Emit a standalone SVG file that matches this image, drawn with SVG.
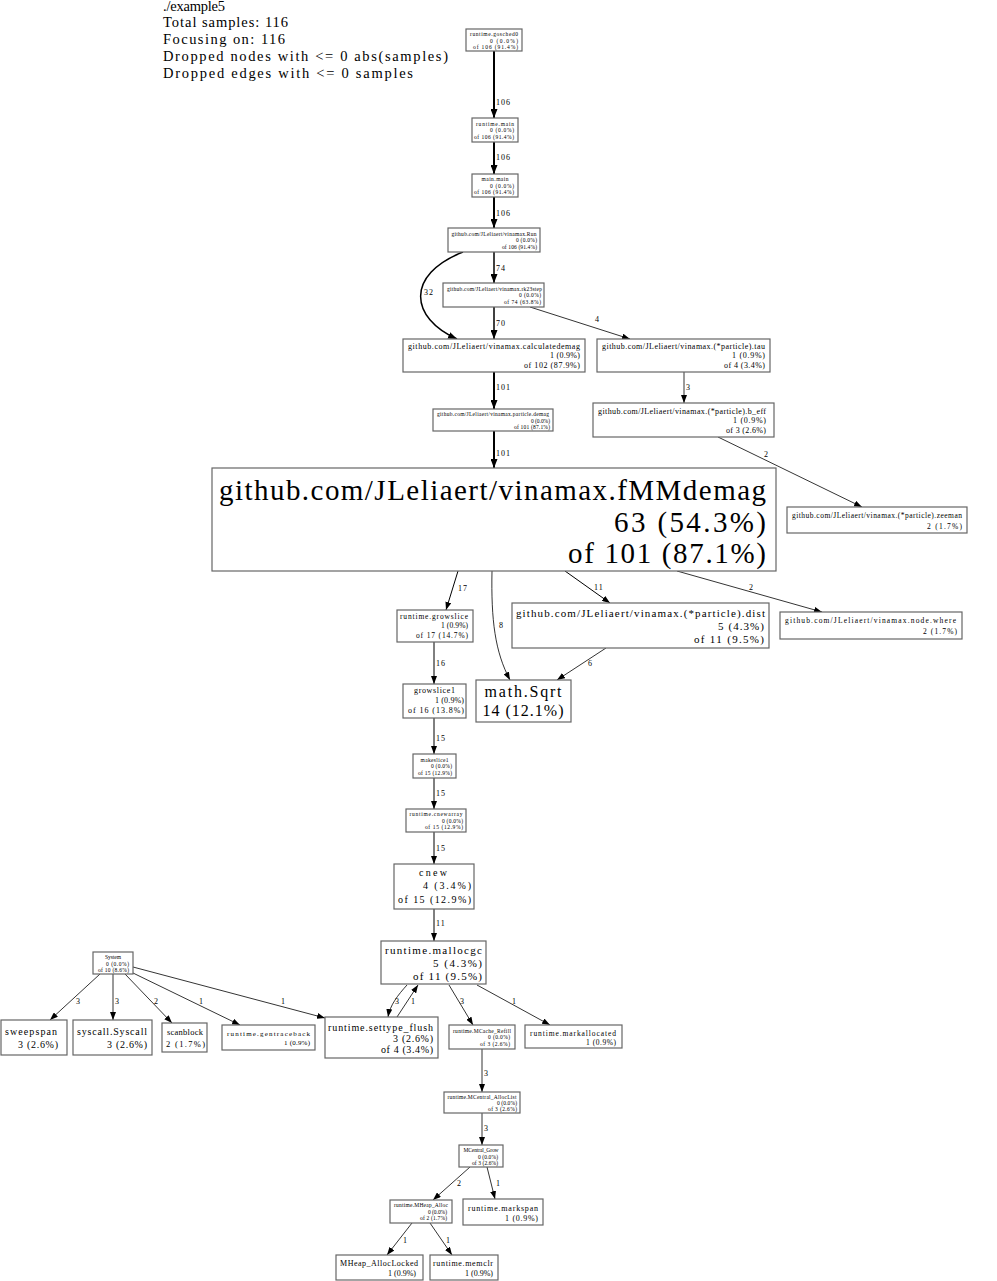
<svg xmlns="http://www.w3.org/2000/svg" width="997" height="1281" viewBox="0 0 997 1281">
<style>
text{font-family:"Liberation Serif","Times New Roman",serif;fill:#000}
.nd rect{fill:#fff;stroke:#666;stroke-width:1.2}
.t{font-size:5.5px}
.m{text-anchor:middle}
.r{text-anchor:end}
.lg{font-size:14.5px}
.e path{fill:none;stroke:#000}
.e text{font-size:8px;letter-spacing:1px}
.w1{stroke-width:0.8}
.w2{stroke-width:1}
.w3{stroke-width:1.5}
.w4{stroke-width:2}
</style>
<defs>
<marker id="a" markerUnits="userSpaceOnUse" markerWidth="8" markerHeight="6" refX="8" refY="3" orient="auto"><path d="M0,0 L8,3 L0,6 z" fill="#000"/></marker>
<marker id="b" markerUnits="userSpaceOnUse" markerWidth="9" markerHeight="7" refX="9" refY="3.5" orient="auto"><path d="M0,0 L9,3.5 L0,7 z" fill="#000"/></marker>
</defs>
<g id="legend" class="lg">
<text x="163" y="11" textLength="62">./example5</text>
<text x="163" y="27" textLength="125">Total samples: 116</text>
<text x="163" y="44" textLength="122">Focusing on: 116</text>
<text x="163" y="61" textLength="285">Dropped nodes with &lt;= 0 abs(samples)</text>
<text x="163" y="78" textLength="250">Dropped edges with &lt;= 0 samples</text>
</g>
<g class="e" id="edges">
<path class="w4" d="M494,51 L494,118" marker-end="url(#b)"/><text x="496" y="105">106</text>
<path class="w4" d="M494,142 L494,174" marker-end="url(#b)"/><text x="496" y="160">106</text>
<path class="w4" d="M494,197 L494,228" marker-end="url(#b)"/><text x="496" y="216">106</text>
<path class="w3" d="M494,252 L494,283" marker-end="url(#b)"/><text x="496" y="271">74</text>
<path class="w3" d="M463,252 C405,275 410,318 457,339" marker-end="url(#b)"/><text x="424" y="295">32</text>
<path class="w3" d="M494,307 L494,339" marker-end="url(#b)"/><text x="496" y="326">70</text>
<path class="w1" d="M530,307 L630,339" marker-end="url(#a)"/><text x="595" y="322">4</text>
<path class="w4" d="M494,372 L494,409" marker-end="url(#b)"/><text x="496" y="390">101</text>
<path class="w1" d="M684,372 L684,403" marker-end="url(#a)"/><text x="686" y="390">3</text>
<path class="w4" d="M494,431 L494,468" marker-end="url(#b)"/><text x="496" y="456">101</text>
<path class="w1" d="M718,437 L862,507" marker-end="url(#a)"/><text x="764" y="457">2</text>
<path class="w2" d="M458,571 L446,610" marker-end="url(#a)"/><text x="458" y="591">17</text>
<path class="w1" d="M492,571 C491,620 495,652 510,680" marker-end="url(#a)"/><text x="499" y="628">8</text>
<path class="w2" d="M565,571 L610,603" marker-end="url(#a)"/><text x="594" y="590">11</text>
<path class="w1" d="M677,571 L822,612" marker-end="url(#a)"/><text x="749" y="590">2</text>
<path class="w1" d="M606,648 L557,680" marker-end="url(#a)"/><text x="588" y="666">6</text>
<path class="w2" d="M434,642 L434,684" marker-end="url(#a)"/><text x="436" y="666">16</text>
<path class="w2" d="M434,718 L434,754" marker-end="url(#a)"/><text x="436" y="741">15</text>
<path class="w2" d="M434,778 L434,809" marker-end="url(#a)"/><text x="436" y="796">15</text>
<path class="w2" d="M434,832 L434,864" marker-end="url(#a)"/><text x="436" y="851">15</text>
<path class="w2" d="M434,909 L434,941" marker-end="url(#a)"/><text x="436" y="926">11</text>
<path class="w1" d="M407,985 C398,995 390,1005 388,1017" marker-end="url(#a)"/><text x="395" y="1004">3</text>
<path class="w1" d="M397,1017 L418,985" marker-end="url(#a)"/><text x="411" y="1004">1</text>
<path class="w1" d="M449,985 L473,1025" marker-end="url(#a)"/><text x="460" y="1004">3</text>
<path class="w1" d="M477,985 L550,1025" marker-end="url(#a)"/><text x="512" y="1004">1</text>
<path class="w1" d="M100,974 L50,1020" marker-end="url(#a)"/><text x="76" y="1004">3</text>
<path class="w1" d="M113,974 L113,1020" marker-end="url(#a)"/><text x="115" y="1004">3</text>
<path class="w1" d="M125,974 L172,1023" marker-end="url(#a)"/><text x="154" y="1004">2</text>
<path class="w1" d="M133,973 L240,1025" marker-end="url(#a)"/><text x="199" y="1004">1</text>
<path class="w1" d="M133,967 L325,1018" marker-end="url(#a)"/><text x="281" y="1004">1</text>
<path class="w1" d="M482,1049 L482,1092" marker-end="url(#a)"/><text x="484" y="1076">3</text>
<path class="w1" d="M482,1113 L482,1145" marker-end="url(#a)"/><text x="484" y="1131">3</text>
<path class="w1" d="M470,1167 L433,1200" marker-end="url(#a)"/><text x="457" y="1186">2</text>
<path class="w1" d="M487,1167 L495,1199" marker-end="url(#a)"/><text x="496" y="1186">1</text>
<path class="w1" d="M412,1223 L387,1255" marker-end="url(#a)"/><text x="403" y="1243">1</text>
<path class="w1" d="M430,1223 L452,1255" marker-end="url(#a)"/><text x="446" y="1243">1</text>
</g>
<g id="n_gosched0" class="nd"><rect x="466" y="29" width="56" height="22"/><text class="t m" x="494" y="36" textLength="48">runtime.gosched0</text><text class="t r" x="518" y="42.5" textLength="28">0 (0.0%)</text><text class="t r" x="518" y="49" textLength="45">of 106 (91.4%)</text></g>
<g id="n_rtmain" class="nd"><rect x="472" y="118" width="46" height="24"/><text class="t m" x="495" y="125.5" textLength="38">runtime.main</text><text class="t r" x="514" y="132" textLength="24">0 (0.0%)</text><text class="t r" x="514" y="138.5" textLength="40">of 106 (91.4%)</text></g>
<g id="n_mainmain" class="nd"><rect x="472" y="174" width="46" height="23"/><text class="t m" x="495" y="181" textLength="27">main.main</text><text class="t r" x="514" y="187.5" textLength="24">0 (0.0%)</text><text class="t r" x="514" y="194" textLength="40">of 106 (91.4%)</text></g>
<g id="n_run" class="nd"><rect x="448" y="228" width="92" height="24"/><text class="t m" x="494" y="235.5" textLength="85">github.com/JLeliaert/vinamax.Run</text><text class="t r" x="537" y="242" textLength="21">0 (0.0%)</text><text class="t r" x="537" y="248.5" textLength="35">of 106 (91.4%)</text></g>
<g id="n_rk23" class="nd"><rect x="443" y="283" width="101" height="24"/><text class="t m" x="494.5" y="290.5" textLength="95">github.com/JLeliaert/vinamax.rk23step</text><text class="t r" x="541" y="297" textLength="22">0 (0.0%)</text><text class="t r" x="541" y="303.5" textLength="37">of 74 (63.8%)</text></g>
<g id="n_calc" class="nd"><rect x="403" y="339" width="182" height="33"/><text class="m" style="font-size:8px" x="494" y="348.5" textLength="172">github.com/JLeliaert/vinamax.calculatedemag</text><text class="r" style="font-size:8px" x="580" y="358" textLength="30">1 (0.9%)</text><text class="r" style="font-size:8px" x="580" y="367.5" textLength="56">of 102 (87.9%)</text></g>
<g id="n_tau" class="nd"><rect x="597" y="339" width="173" height="33"/><text class="m" style="font-size:8px" x="683.5" y="348.5" textLength="163">github.com/JLeliaert/vinamax.(*particle).tau</text><text class="r" style="font-size:8px" x="765" y="358" textLength="33">1 (0.9%)</text><text class="r" style="font-size:8px" x="765" y="367.5" textLength="41">of 4 (3.4%)</text></g>
<g id="n_pdemag" class="nd"><rect x="433" y="409" width="120" height="22"/><text class="t m" x="493" y="416" textLength="112">github.com/JLeliaert/vinamax.particle.demag</text><text class="t r" x="550" y="422.5" textLength="19">0 (0.0%)</text><text class="t r" x="550" y="428.5" textLength="36">of 101 (87.1%)</text></g>
<g id="n_beff" class="nd"><rect x="593" y="403" width="181" height="34"/><text class="m" style="font-size:8px" x="682" y="413.5" textLength="168">github.com/JLeliaert/vinamax.(*particle).b_eff</text><text class="r" style="font-size:8px" x="766" y="423" textLength="33">1 (0.9%)</text><text class="r" style="font-size:8px" x="766" y="432.5" textLength="40">of 3 (2.6%)</text></g>
<g id="n_zeeman" class="nd"><rect x="787" y="507" width="180" height="26"/><text class="m" style="font-size:7.5px" x="877" y="518" textLength="170">github.com/JLeliaert/vinamax.(*particle).zeeman</text><text class="r" style="font-size:7.5px" x="962" y="528.5" textLength="35">2 (1.7%)</text></g>
<g id="n_fmm" class="nd"><rect x="212" y="468" width="564" height="103"/><text class="m" style="font-size:29px" x="492.5" y="500" textLength="547">github.com/JLeliaert/vinamax.fMMdemag</text><text class="r" style="font-size:29px" x="766" y="532" textLength="152">63 (54.3%)</text><text class="r" style="font-size:29px" x="766" y="563" textLength="198">of 101 (87.1%)</text></g>
<g id="n_growslice" class="nd"><rect x="397" y="610" width="76" height="32"/><text class="m" style="font-size:7.5px" x="434" y="618.5" textLength="68">runtime.growslice</text><text class="r" style="font-size:7.5px" x="468" y="628" textLength="27">1 (0.9%)</text><text class="r" style="font-size:7.5px" x="468" y="638" textLength="52">of 17 (14.7%)</text></g>
<g id="n_dist" class="nd"><rect x="512" y="603" width="257" height="45"/><text class="m" style="font-size:11px" x="640.5" y="617" textLength="249">github.com/JLeliaert/vinamax.(*particle).dist</text><text class="r" style="font-size:11px" x="764" y="630" textLength="46">5 (4.3%)</text><text class="r" style="font-size:11px" x="764" y="643" textLength="70">of 11 (9.5%)</text></g>
<g id="n_where" class="nd"><rect x="780" y="612" width="182" height="27"/><text class="m" style="font-size:7.5px" x="870.5" y="623" textLength="171">github.com/JLeliaert/vinamax.node.where</text><text class="r" style="font-size:7.5px" x="957" y="634" textLength="34">2 (1.7%)</text></g>
<g id="n_sqrt" class="nd"><rect x="476" y="680" width="95" height="42"/><text class="m" style="font-size:16px" x="523" y="697" textLength="77">math.Sqrt</text><text class="m" style="font-size:16px" x="523" y="716" textLength="81">14 (12.1%)</text></g>
<g id="n_growslice1" class="nd"><rect x="403" y="684" width="63" height="34"/><text class="m" style="font-size:8px" x="434.5" y="693" textLength="41">growslice1</text><text class="r" style="font-size:8px" x="464" y="703" textLength="29">1 (0.9%)</text><text class="r" style="font-size:8px" x="464" y="713" textLength="56">of 16 (13.8%)</text></g>
<g id="n_makeslice1" class="nd"><rect x="413" y="754" width="43" height="24"/><text class="t m" x="434.5" y="761.5" textLength="28">makeslice1</text><text class="t r" x="452" y="768" textLength="21">0 (0.0%)</text><text class="t r" x="452" y="774.5" textLength="34">of 15 (12.9%)</text></g>
<g id="n_cnewarray" class="nd"><rect x="406" y="809" width="60" height="23"/><text class="t m" x="436" y="816" textLength="53">runtime.cnewarray</text><text class="t r" x="463" y="822.5" textLength="21">0 (0.0%)</text><text class="t r" x="463" y="829" textLength="38">of 15 (12.9%)</text></g>
<g id="n_cnew" class="nd"><rect x="394" y="864" width="80" height="45"/><text class="m" style="font-size:10px" x="433" y="876" textLength="28">cnew</text><text class="r" style="font-size:10px" x="471" y="889" textLength="48">4 (3.4%)</text><text class="r" style="font-size:10px" x="471" y="903" textLength="73">of 15 (12.9%)</text></g>
<g id="n_mallocgc" class="nd"><rect x="381" y="941" width="105" height="43"/><text class="m" style="font-size:11px" x="433.5" y="954" textLength="97">runtime.mallocgc</text><text class="r" style="font-size:11px" x="482" y="967" textLength="49">5 (4.3%)</text><text class="r" style="font-size:11px" x="482" y="980" textLength="69">of 11 (9.5%)</text></g>
<g id="n_system" class="nd"><rect x="93" y="952" width="40" height="22"/><text class="t m" x="113" y="959" textLength="16">System</text><text class="t r" x="129" y="965.5" textLength="23">0 (0.0%)</text><text class="t r" x="129" y="971.5" textLength="31">of 10 (8.6%)</text></g>
<g id="n_sweepspan" class="nd"><rect x="1" y="1020" width="66" height="35"/><text class="m" style="font-size:10px" x="31" y="1035" textLength="52">sweepspan</text><text class="r" style="font-size:10px" x="58" y="1048" textLength="40">3 (2.6%)</text></g>
<g id="n_syscall" class="nd"><rect x="73" y="1020" width="79" height="35"/><text class="m" style="font-size:10px" x="112" y="1035" textLength="70">syscall.Syscall</text><text class="r" style="font-size:10px" x="147" y="1048" textLength="40">3 (2.6%)</text></g>
<g id="n_scanblock" class="nd"><rect x="162" y="1023" width="45" height="29"/><text class="m" style="font-size:8.5px" x="185" y="1035" textLength="36">scanblock</text><text class="r" style="font-size:8.5px" x="205" y="1047" textLength="39">2 (1.7%)</text></g>
<g id="n_gentraceback" class="nd"><rect x="222" y="1025" width="93" height="25"/><text class="m" style="font-size:7px" x="268.5" y="1035.5" textLength="83">runtime.gentraceback</text><text class="r" style="font-size:7px" x="310" y="1045" textLength="26">1 (0.9%)</text></g>
<g id="n_settype" class="nd"><rect x="325" y="1017" width="113" height="41"/><text class="m" style="font-size:10px" x="380.5" y="1031" textLength="105">runtime.settype_flush</text><text class="r" style="font-size:10px" x="433" y="1042" textLength="40">3 (2.6%)</text><text class="r" style="font-size:10px" x="433" y="1053" textLength="52">of 4 (3.4%)</text></g>
<g id="n_mcache" class="nd"><rect x="449" y="1025" width="66" height="24"/><text class="t m" x="482" y="1032.5" textLength="58">runtime.MCache_Refill</text><text class="t r" x="510" y="1039" textLength="22">0 (0.0%)</text><text class="t r" x="510" y="1045.5" textLength="30">of 3 (2.6%)</text></g>
<g id="n_markallocated" class="nd"><rect x="525" y="1025" width="97" height="23"/><text class="m" style="font-size:7.5px" x="573" y="1035.5" textLength="86">runtime.markallocated</text><text class="r" style="font-size:7.5px" x="616" y="1045" textLength="30">1 (0.9%)</text></g>
<g id="n_alloclist" class="nd"><rect x="444" y="1092" width="76" height="21"/><text class="t m" x="482" y="1098.5" textLength="69">runtime.MCentral_AllocList</text><text class="t r" x="517" y="1104.5" textLength="20">0 (0.0%)</text><text class="t r" x="517" y="1110.5" textLength="29">of 3 (2.6%)</text></g>
<g id="n_grow" class="nd"><rect x="459" y="1145" width="44" height="22"/><text class="t m" x="481" y="1152" textLength="35">MCentral_Grow</text><text class="t r" x="498" y="1158.5" textLength="20">0 (0.0%)</text><text class="t r" x="498" y="1165" textLength="26">of 3 (2.6%)</text></g>
<g id="n_mheapalloc" class="nd"><rect x="390" y="1200" width="62" height="23"/><text class="t m" x="421" y="1207" textLength="54">runtime.MHeap_Alloc</text><text class="t r" x="447" y="1213.5" textLength="19">0 (0.0%)</text><text class="t r" x="447" y="1220" textLength="27">of 2 (1.7%)</text></g>
<g id="n_markspan" class="nd"><rect x="463" y="1199" width="80" height="26"/><text class="m" style="font-size:8px" x="503" y="1210.5" textLength="70">runtime.markspan</text><text class="r" style="font-size:8px" x="538" y="1220.5" textLength="33">1 (0.9%)</text></g>
<g id="n_alloclocked" class="nd"><rect x="336" y="1255" width="87" height="25"/><text class="m" style="font-size:8px" x="379" y="1266" textLength="78">MHeap_AllocLocked</text><text class="r" style="font-size:8px" x="416" y="1276" textLength="28">1 (0.9%)</text></g>
<g id="n_memclr" class="nd"><rect x="430" y="1255" width="68" height="25"/><text class="m" style="font-size:8px" x="463" y="1266" textLength="60">runtime.memclr</text><text class="r" style="font-size:8px" x="493" y="1276" textLength="28">1 (0.9%)</text></g>
</svg>
